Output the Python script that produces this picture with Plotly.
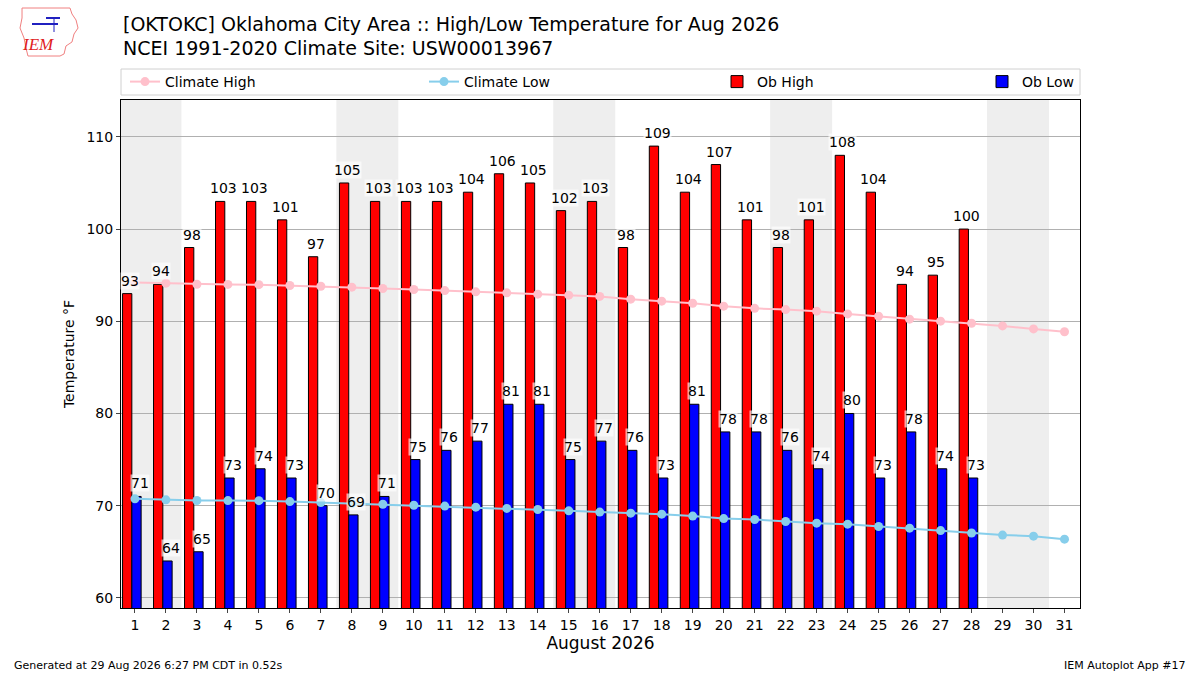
import plotly.graph_objects as go

# data
days = list(range(1, 32))
ob_days = list(range(1, 29))
ob_high = [93, 94, 98, 103, 103, 101, 97, 105, 103, 103, 103, 104, 106, 105,
           102, 103, 98, 109, 104, 107, 101, 98, 101, 108, 104, 94, 95, 100]
ob_low = [71, 64, 65, 73, 74, 73, 70, 69, 71, 75, 76, 77, 81, 81,
          75, 77, 76, 73, 81, 78, 78, 76, 74, 80, 73, 78, 74, 73]
climate_high = [94.2, 94.13, 94.02, 94.0, 93.97, 93.88, 93.8, 93.7, 93.56, 93.44,
                93.33, 93.19, 93.08, 92.94, 92.83, 92.7, 92.4, 92.18, 91.96, 91.64,
                91.4, 91.27, 91.1, 90.8, 90.55, 90.23, 90.01, 89.79, 89.5, 89.17, 88.86]
climate_low = [70.74, 70.63, 70.56, 70.55, 70.54, 70.44, 70.33, 70.22, 70.15, 70.05,
               69.95, 69.84, 69.7, 69.58, 69.44, 69.3, 69.19, 69.08, 68.87, 68.6,
               68.5, 68.28, 68.1, 67.99, 67.74, 67.56, 67.3, 67.03, 66.81, 66.69, 66.37]
weekends = [(0.5, 2.5), (7.5, 9.5), (14.5, 16.5), (21.5, 23.5), (28.5, 30.5)]
x_ticks = list(range(1, 32))
y_ticks = [60, 70, 80, 90, 100, 110]

FONT = "DejaVu Sans"
L, R, T, B = 121, 120, 100, 67
W, H = 1200, 675
PW, PH = W - L - R, H - T - B


def px(x):
    return (x - L) / PW


def py(y):
    return (H - B - y) / PH


fig = go.Figure()

fig.add_trace(go.Bar(
    x=ob_days, y=ob_high, width=0.3, offset=-0.4, name="Ob High",
    marker=dict(color="#ff0000", line=dict(color="black", width=1)),
    legend="legend3", hoverinfo="x+y"))
fig.add_trace(go.Bar(
    x=ob_days, y=ob_low, width=0.3, offset=-0.1, name="Ob Low",
    marker=dict(color="#0000ff", line=dict(color="black", width=1)),
    legend="legend4", hoverinfo="x+y"))
fig.add_trace(go.Scatter(
    x=days, y=climate_high, mode="lines+markers", name="Climate High",
    line=dict(color="#ffc0cb", width=2), marker=dict(color="#ffc0cb", size=9),
    legend="legend"))
fig.add_trace(go.Scatter(
    x=days, y=climate_low, mode="lines+markers", name="Climate Low",
    line=dict(color="#87ceeb", width=2), marker=dict(color="#87ceeb", size=9),
    legend="legend2"))

# weekend shading
shapes = []
for x0, x1 in weekends:
    shapes.append(dict(type="rect", xref="x", yref="paper", x0=x0, x1=x1, y0=0, y1=1,
                       fillcolor="#eeeeee", line_width=0, layer="below"))

# value labels
annos = []
for d, v in zip(ob_days, ob_high):
    annos.append(dict(x=d - 0.15, y=v, text=str(v), showarrow=False, yanchor="bottom",
                      yshift=4, bgcolor="rgba(255,255,255,0.65)", borderpad=0,
                      font=dict(family=FONT, size=14, color="black")))
for d, v in zip(ob_days, ob_low):
    annos.append(dict(x=d + 0.15, y=v, text=str(v), showarrow=False, yanchor="bottom",
                      yshift=4, bgcolor="rgba(255,255,255,0.65)", borderpad=0,
                      font=dict(family=FONT, size=14, color="black")))

# titles and footer
annos += [
    dict(xref="paper", yref="paper", x=0, y=py(24), xanchor="left", yanchor="middle",
         text="[OKTOKC] Oklahoma City Area :: High/Low Temperature for Aug 2026",
         showarrow=False, font=dict(family=FONT, size=19, color="black")),
    dict(xref="paper", yref="paper", x=0, y=py(48), xanchor="left", yanchor="middle",
         text="NCEI 1991-2020 Climate Site: USW00013967",
         showarrow=False, font=dict(family=FONT, size=19, color="black")),
    dict(xref="paper", yref="paper", x=px(12), y=py(665), xanchor="left", yanchor="middle",
         text="Generated at 29 Aug 2026 6:27 PM CDT in 0.52s",
         showarrow=False, font=dict(family=FONT, size=11, color="black")),
    dict(xref="paper", yref="paper", x=px(1188), y=py(665), xanchor="right", yanchor="middle",
         text="IEM Autoplot App #17",
         showarrow=False, font=dict(family=FONT, size=11, color="black")),
    dict(xref="paper", yref="paper", x=px(38), y=py(45), xanchor="center", yanchor="middle",
         text="<i>IEM</i>", showarrow=False,
         font=dict(family="Liberation Serif", size=17, color="#e0201c")),
]

# legend frame and logo outline
shapes.append(dict(type="rect", xref="paper", yref="paper", x0=0, x1=1, y0=py(95), y1=py(69),
                   line=dict(color="#d0d0d0", width=1), fillcolor="rgba(0,0,0,0)"))
iowa = [(22, 8), (70, 8), (72, 14), (76, 20), (78, 28), (74, 34), (72, 42), (66, 46),
        (64, 54), (60, 56), (28, 56), (26, 48), (24, 38), (20, 28), (22, 18)]
path = "M " + " L ".join(f"{px(a):.4f},{py(b):.4f}" for a, b in iowa) + " Z"
shapes.append(dict(type="path", xref="paper", yref="paper", path=path,
                   line=dict(color="#f08080", width=1)))
shapes.append(dict(type="line", xref="paper", yref="paper", x0=px(32), x1=px(58),
                   y0=py(24), y1=py(24), line=dict(color="#2020c0", width=2)))
shapes.append(dict(type="line", xref="paper", yref="paper", x0=px(46), x1=px(60),
                   y0=py(18), y1=py(18), line=dict(color="#2020c0", width=2)))
shapes.append(dict(type="line", xref="paper", yref="paper", x0=px(54), x1=px(54),
                   y0=py(18), y1=py(32), line=dict(color="#2020c0", width=1)))

legend_base = dict(orientation="h", yanchor="middle", y=py(82), xanchor="left",
                   bgcolor="rgba(0,0,0,0)", borderwidth=0,
                   font=dict(family=FONT, size=14, color="black"))

fig.update_layout(
    width=W, height=H,
    margin=dict(l=L, r=R, t=T, b=B),
    paper_bgcolor="white", plot_bgcolor="white",
    font=dict(family=FONT, size=14, color="black"),
    barmode="overlay",
    showlegend=True,
    legend=dict(legend_base, x=px(125)),
    legend2=dict(legend_base, x=px(424)),
    legend3=dict(legend_base, x=px(717)),
    legend4=dict(legend_base, x=px(982)),
    annotations=annos,
    shapes=shapes,
    xaxis=dict(range=[0.55, 31.5], tickvals=x_ticks, ticks="outside", ticklen=4,
               showgrid=False, zeroline=False, showline=True, linecolor="black",
               linewidth=1, mirror=True, tickfont=dict(size=14),
               title=dict(text="August 2026", font=dict(size=17), standoff=4)),
    yaxis=dict(range=[58.9, 114], tickvals=y_ticks, ticks="outside", ticklen=4,
               showgrid=True, gridcolor="#b0b0b0", gridwidth=1, zeroline=False,
               showline=True, linecolor="black", linewidth=1, mirror=True,
               tickfont=dict(size=14),
               title=dict(text="Temperature °F", font=dict(size=14), standoff=8)),
)

# drop the page's default body margin so the figure sits at the window's corner
fig.write_html("out.html", config={"displayModeBar": False},
               post_script="document.body.style.margin='0';")
